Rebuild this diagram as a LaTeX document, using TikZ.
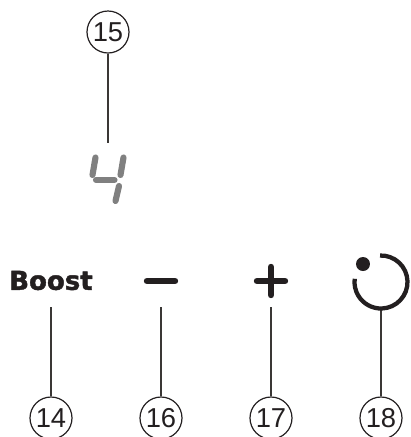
\documentclass[tikz,border=0pt]{standalone}
\usepackage{fontspec}
\setmainfont{Liberation Sans}
\newfontfamily\boostfont{DejaVu Sans}[BoldFeatures={FakeBold=1.6}]
\definecolor{inkdark}{HTML}{231F20}
\definecolor{leadgrey}{HTML}{3A3735}
\definecolor{seggrey}{HTML}{808080}
\tikzset{
  callout/.style={draw=inkdark,circle,line width=0.9pt,minimum size=31.5pt,inner sep=0pt,font=\fontsize{20.5}{22}\selectfont,text=inkdark},
  lead/.style={draw=leadgrey,line width=1.1pt},
  keymark/.style={draw=inkdark,line width=4.8pt,line cap=round},
  segment/.style={draw=seggrey,fill=seggrey,line width=4.6pt,line cap=round}
}
\begin{document}
\begin{tikzpicture}[x=0.75pt,y=-0.75pt]
        \useasboundingbox (0,0) rectangle (411,437);

        \node[callout] (c15) at (108,32) {15};
        \node[callout] (c14) at (51,418) {14};
        \node[callout] (c16) at (161,418) {16};
        \node[callout] (c17) at (271,418) {17};
        \node[callout] (c18) at (381,418) {18};

        \node[font=\boostfont\bfseries\fontsize{19.5}{20}\selectfont,text=inkdark,inner sep=0pt] (boost) at (51,280.5) {Boost};

        \coordinate (e15) at (108,143);
        \coordinate (e14) at (51,307);
        \coordinate (e16) at (161,307);
        \coordinate (e17) at (271,307);
        \coordinate (e18) at (381,310);

        \draw[lead] (c15) -- (e15);
        \draw[lead] (c14) -- (e14);
        \draw[lead] (c16) -- (e16);
        \draw[lead] (c17) -- (e17);
        \draw[lead] (c18) -- (e18);

        % digit
        \draw[segment] (95.5,157.5) -- (92.5,175);
        \draw[segment] (96,180) -- (114.5,180);
        \draw[segment] (123.5,157.5) -- (120.5,175);
        \draw[segment] (119,186) -- (115.5,201);

        % minus and plus
        \draw[keymark] (147,281) -- (175,281);
        \draw[keymark] (257,281) -- (285,281) (271,267) -- (271,295);

        % power
        \draw[inkdark,line width=3.2pt] (381,282) ++(-92:26.5) arc[start angle=-92,end angle=187,radius=26.5];
        \fill[inkdark] (363,264) circle (7);
      \end{tikzpicture}
\end{document}
